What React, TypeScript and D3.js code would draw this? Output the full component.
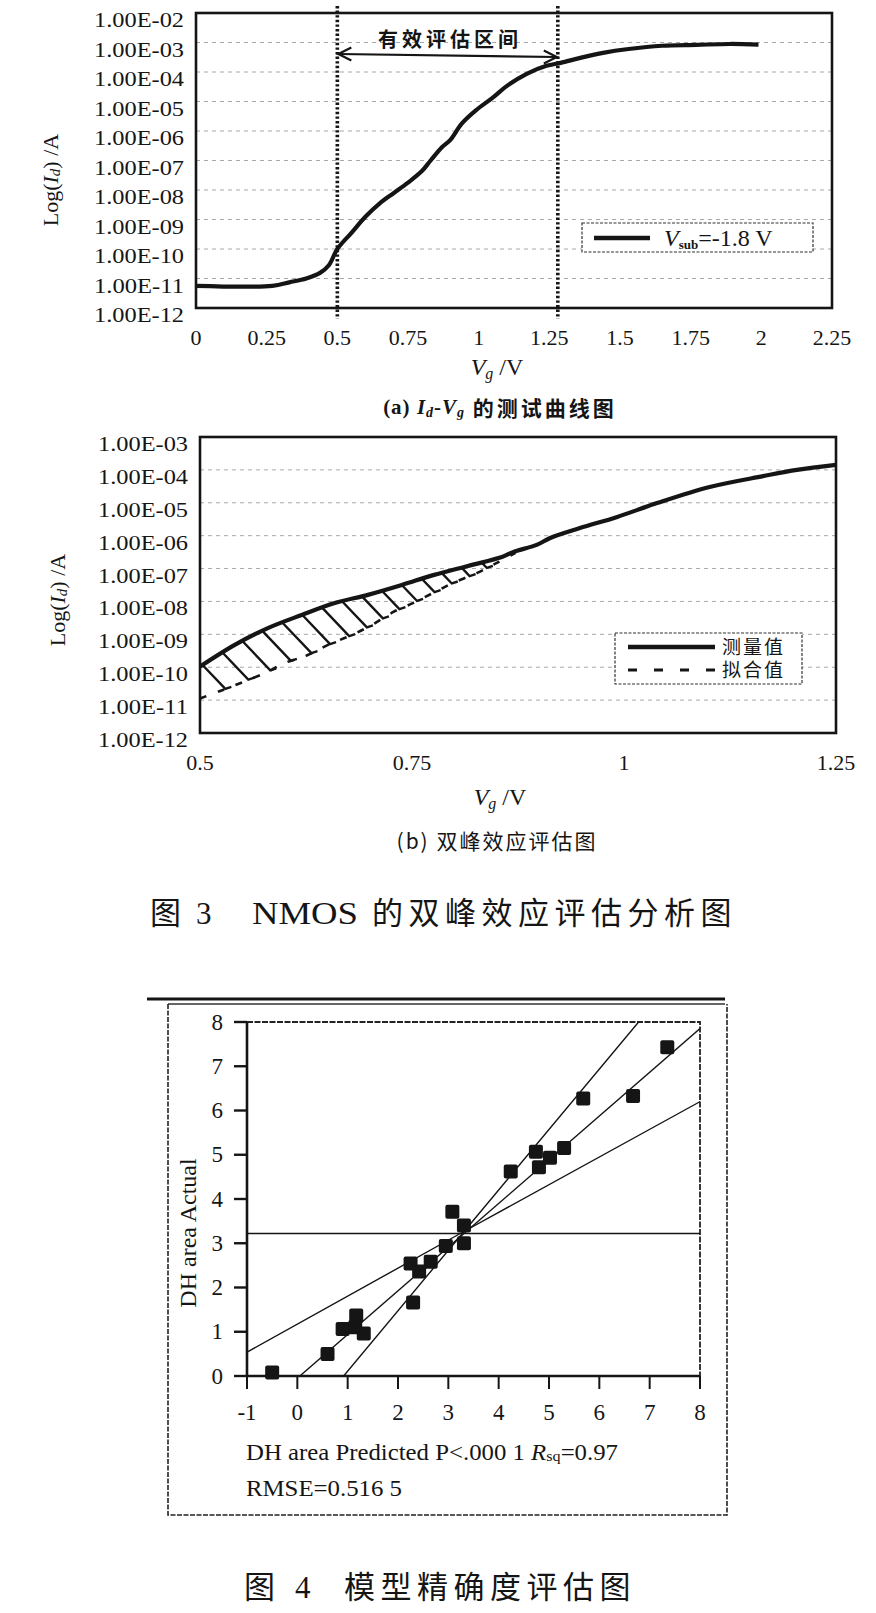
import * as d3 from "d3"
import { useEffect, useRef } from "react"

// Fig 3(a): measured Id-Vg curve, Vsub = -1.8 V (log10 of Id in A)
const vgA = [0, 0.27, 0.33, 0.39, 0.44, 0.47, 0.5, 0.55, 0.6, 0.65, 0.7, 0.75, 0.8, 0.83, 0.87, 0.9, 0.94, 0.99, 1.05, 1.1, 1.17, 1.24, 1.29, 1.36, 1.44, 1.53, 1.65, 1.77, 1.89, 1.99]
const logIdA = [-11.25, -11.25, -11.13, -11.0, -10.8, -10.55, -10.0, -9.45, -8.9, -8.45, -8.1, -7.75, -7.35, -7.0, -6.55, -6.3, -5.75, -5.3, -4.87, -4.47, -4.06, -3.79, -3.69, -3.52, -3.35, -3.22, -3.11, -3.08, -3.05, -3.07]
const expA = [-2, -3, -4, -5, -6, -7, -8, -9, -10, -11, -12]
const yLabelsA = ["1.00E-02", "1.00E-03", "1.00E-04", "1.00E-05", "1.00E-06", "1.00E-07", "1.00E-08", "1.00E-09", "1.00E-10", "1.00E-11", "1.00E-12"]
const xTicksA = [0, 0.25, 0.5, 0.75, 1, 1.25, 1.5, 1.75, 2, 2.25]
const xLabelsA = ["0", "0.25", "0.5", "0.75", "1", "1.25", "1.5", "1.75", "2", "2.25"]
const windowA = [0.5, 1.28]

// Fig 3(b): measured vs fitted in the evaluation window
const vgMeasB = [0.5, 0.541, 0.58, 0.62, 0.659, 0.698, 0.738, 0.775, 0.816, 0.856, 0.869, 0.897, 0.913, 0.948, 0.992, 1.039, 1.101, 1.164, 1.204, 1.25]
const logMeasB = [-9.98, -9.32, -8.81, -8.41, -8.05, -7.8, -7.5, -7.2, -6.92, -6.65, -6.5, -6.28, -6.07, -5.77, -5.43, -5.01, -4.52, -4.19, -4.0, -3.85]
const vgFitB = [0.5, 0.527, 0.577, 0.6, 0.627, 0.651, 0.679, 0.703, 0.728, 0.751, 0.775, 0.798, 0.827, 0.85, 0.872]
const logFitB = [-10.95, -10.69, -10.17, -9.87, -9.63, -9.32, -9.02, -8.71, -8.32, -8.05, -7.74, -7.44, -7.13, -6.83, -6.52]
const expB = [-3, -4, -5, -6, -7, -8, -9, -10, -11, -12]
const yLabelsB = ["1.00E-03", "1.00E-04", "1.00E-05", "1.00E-06", "1.00E-07", "1.00E-08", "1.00E-09", "1.00E-10", "1.00E-11", "1.00E-12"]
const xTicksB = [0.5, 0.75, 1, 1.25]
const xLabelsB = ["0.5", "0.75", "1", "1.25"]
const legendB = ["测量值", "拟合值"]

// Fig 4: DH area actual vs predicted
const predicted = [-0.5, 0.6, 0.9, 1.15, 1.17, 1.32, 2.25, 2.42, 2.65, 2.3, 2.95, 3.08, 3.31, 3.31, 4.24, 4.74, 4.8, 5.02, 5.3, 5.68, 6.67, 7.35]
const actual = [0.08, 0.5, 1.06, 1.1, 1.37, 0.96, 2.54, 2.36, 2.58, 1.66, 2.94, 3.71, 3.4, 3.0, 4.62, 5.07, 4.72, 4.93, 5.15, 6.27, 6.33, 7.43]
const fitLine = [[0.05, 0], [8, 7.85]]
const steepCurve = [[0.92, 0], [3.3, 3.25], [6.78, 8]]
const flatCurve = [[-1, 0.54], [3.3, 3.26], [8, 6.2]]
const meanActual = 3.22
const xTicks4 = [-1, 0, 1, 2, 3, 4, 5, 6, 7, 8]
const yTicks4 = [0, 1, 2, 3, 4, 5, 6, 7, 8]

const W = 876
const H = 1613
const serif = "'Liberation Serif', 'Times New Roman', 'Noto Sans CJK SC', serif"
const cjk = "'Noto Sans CJK SC', 'Liberation Serif', sans-serif"
const ink = "#151515"

type G = d3.Selection<SVGGElement, unknown, null, undefined>

function logAxisPanel(
  g: G,
  x: d3.ScaleLinear<number, number>,
  y: d3.ScaleLogarithmic<number, number>,
  exps: number[],
  labels: string[],
  xTicks: number[],
  xLabels: string[],
  xLabelY: number,
) {
  const [x0, x1] = x.range()
  const [yb, yt] = y.range()
  g.selectAll(".grid")
    .data(exps.slice(1, -1))
    .join("line")
    .attr("x1", x0)
    .attr("x2", x1)
    .attr("y1", (d) => y(10 ** d))
    .attr("y2", (d) => y(10 ** d))
    .attr("stroke", "#a8a8a8")
    .attr("stroke-width", 1)
    .attr("stroke-dasharray", "4,4")
  g.append("rect")
    .attr("x", x0)
    .attr("y", yt)
    .attr("width", x1 - x0)
    .attr("height", yb - yt)
    .attr("fill", "none")
    .attr("stroke", ink)
    .attr("stroke-width", 2.6)
  g.selectAll(".yl")
    .data(exps)
    .join("text")
    .attr("x", x0 - 102)
    .attr("y", (d) => y(10 ** d) + 7)
    .attr("dominant-baseline", "central")
    .attr("font-family", serif)
    .attr("font-size", 21)
    .attr("textLength", 90)
    .attr("lengthAdjust", "spacingAndGlyphs")
    .attr("fill", ink)
    .text((_, i) => labels[i])
  g.selectAll(".xl")
    .data(xTicks)
    .join("text")
    .attr("x", (d) => x(d))
    .attr("y", xLabelY)
    .attr("text-anchor", "middle")
    .attr("dominant-baseline", "central")
    .attr("font-family", serif)
    .attr("font-size", 22)
    .attr("fill", ink)
    .text((_, i) => xLabels[i])
}

function yTitle(g: G, cx: number, cy: number) {
  const t = g.append("text")
    .attr("transform", `translate(${cx},${cy}) rotate(-90)`)
    .attr("text-anchor", "middle")
    .attr("dominant-baseline", "central")
    .attr("font-family", serif)
    .attr("font-size", 22)
    .attr("fill", ink)
  t.append("tspan").text("Log(")
  t.append("tspan").attr("font-style", "italic").text("I")
  t.append("tspan").attr("font-style", "italic").attr("font-size", 15).attr("dy", 5).text("d")
  t.append("tspan").attr("dy", -5).text(") /A")
}

function xTitle(g: G, cx: number, cy: number) {
  const t = g.append("text")
    .attr("x", cx)
    .attr("y", cy)
    .attr("text-anchor", "middle")
    .attr("dominant-baseline", "central")
    .attr("font-family", serif)
    .attr("font-size", 24)
    .attr("fill", ink)
  t.append("tspan").attr("font-style", "italic").text("V")
  t.append("tspan").attr("font-style", "italic").attr("font-size", 16).attr("dy", 6).text("g")
  t.append("tspan").attr("dy", -6).text(" /V")
}

function drawPanelA(g: G) {
  const x = d3.scaleLinear().domain([0, 2.25]).range([196, 832])
  const y = d3.scaleLog().domain([1e-12, 1e-2]).range([308, 13])
  logAxisPanel(g, x, y, expA, yLabelsA, xTicksA, xLabelsA, 337)

  // evaluation window
  g.selectAll(".win")
    .data(windowA)
    .join("line")
    .attr("x1", (d) => x(d))
    .attr("x2", (d) => x(d))
    .attr("y1", 6)
    .attr("y2", 319)
    .attr("stroke", ink)
    .attr("stroke-width", 3.6)
    .attr("stroke-dasharray", "2.4,2.2")

  const line = d3.line<number>()
    .x((_, i) => x(vgA[i]))
    .y((d) => y(10 ** d))
    .curve(d3.curveCatmullRom.alpha(0.5))
  g.append("path")
    .attr("d", line(logIdA))
    .attr("fill", "none")
    .attr("stroke", ink)
    .attr("stroke-width", 4.2)
    .attr("stroke-linejoin", "round")

  const ax0 = x(windowA[0]) + 1
  const ax1 = x(windowA[1]) - 1
  g.append("line")
    .attr("x1", ax0).attr("y1", 54).attr("x2", ax1).attr("y2", 57)
    .attr("stroke", ink).attr("stroke-width", 2.2)
  g.append("path")
    .attr("d", `M${ax0 + 13},47.5 L${ax0},54 L${ax0 + 13},60.5`)
    .attr("fill", "none").attr("stroke", ink).attr("stroke-width", 2.2)
  g.append("path")
    .attr("d", `M${ax1 - 13},50.5 L${ax1},57 L${ax1 - 13},63.5`)
    .attr("fill", "none").attr("stroke", ink).attr("stroke-width", 2.2)
  g.append("text")
    .attr("x", 450).attr("y", 38)
    .attr("text-anchor", "middle").attr("dominant-baseline", "central")
    .attr("font-family", cjk).attr("font-weight", 700).attr("font-size", 20)
    .attr("letter-spacing", 4).attr("fill", ink)
    .text("有效评估区间")

  // legend
  g.append("rect")
    .attr("x", 582).attr("y", 223).attr("width", 231).attr("height", 29)
    .attr("fill", "#fff").attr("stroke", "#333").attr("stroke-width", 1.2)
    .attr("stroke-dasharray", "3,1.5")
  g.append("line")
    .attr("x1", 594).attr("x2", 650).attr("y1", 238).attr("y2", 238)
    .attr("stroke", ink).attr("stroke-width", 4.5)
  const lt = g.append("text")
    .attr("x", 664).attr("y", 238)
    .attr("dominant-baseline", "central")
    .attr("font-family", serif).attr("font-size", 24).attr("fill", ink)
  lt.append("tspan").attr("font-style", "italic").text("V")
  lt.append("tspan").attr("font-weight", 700).attr("font-size", 13).attr("dy", 6).text("sub")
  lt.append("tspan").attr("dy", -6).text("=-1.8 V")

  yTitle(g, 50, 180)
  xTitle(g, 497, 367)

  const cap = g.append("text")
    .attr("x", 500).attr("y", 407)
    .attr("text-anchor", "middle").attr("dominant-baseline", "central")
    .attr("font-family", serif).attr("font-weight", 700).attr("font-size", 21)
    .attr("letter-spacing", 1).attr("fill", ink)
  cap.append("tspan").text("(a) ")
  cap.append("tspan").attr("font-style", "italic").text("I")
  cap.append("tspan").attr("font-style", "italic").attr("font-size", 14).attr("dy", 5).text("d")
  cap.append("tspan").attr("dy", -5).text("-")
  cap.append("tspan").attr("font-style", "italic").text("V")
  cap.append("tspan").attr("font-style", "italic").attr("font-size", 14).attr("dy", 5).text("g")
  cap.append("tspan").attr("dy", -5).attr("font-family", cjk).attr("letter-spacing", 3).text(" 的测试曲线图")
}

function drawPanelB(g: G) {
  const x = d3.scaleLinear().domain([0.5, 1.25]).range([200, 836])
  const y = d3.scaleLog().domain([1e-12, 1e-3]).range([733, 437])
  logAxisPanel(g, x, y, expB, yLabelsB, xTicksB, xLabelsB, 762)

  const interp = (xs: number[], ys: number[], v: number) => {
    const i = Math.max(1, Math.min(xs.length - 1, d3.bisectLeft(xs, v)))
    const t = (v - xs[i - 1]) / (xs[i] - xs[i - 1])
    return ys[i - 1] + t * (ys[i] - ys[i - 1])
  }

  // hatch between measured and fitted curves
  const hatchStarts = d3.range(0.503, 0.85, 0.0235)
  const dirX = 1
  const dirY = 1.05
  const hatch = hatchStarts.map((v) => {
    const sx = x(v)
    const sy = y(10 ** interp(vgMeasB, logMeasB, v))
    let lo = 0
    let hi = 80
    for (let k = 0; k < 40; k++) {
      const mid = (lo + hi) / 2
      const px = sx + dirX * mid
      const fy = y(10 ** interp(vgFitB, logFitB, x.invert(px)))
      if (sy + dirY * mid < fy) lo = mid
      else hi = mid
    }
    return [sx, sy, sx + dirX * lo, sy + dirY * lo]
  })
  g.selectAll(".hatch")
    .data(hatch)
    .join("path")
    .attr("d", (d) => `M${d[0]},${d[1]} L${d[2]},${d[3]} l6,-2`)
    .attr("fill", "none")
    .attr("stroke", ink)
    .attr("stroke-width", 2.4)

  const fit = d3.line<number>()
    .x((_, i) => x(vgFitB[i]))
    .y((d) => y(10 ** d))
    .curve(d3.curveCatmullRom.alpha(0.5))
  g.append("path")
    .attr("d", fit(logFitB))
    .attr("fill", "none")
    .attr("stroke", ink)
    .attr("stroke-width", 2.6)
    .attr("stroke-dasharray", "7,12")

  const meas = d3.line<number>()
    .x((_, i) => x(vgMeasB[i]))
    .y((d) => y(10 ** d))
    .curve(d3.curveCatmullRom.alpha(0.5))
  g.append("path")
    .attr("d", meas(logMeasB))
    .attr("fill", "none")
    .attr("stroke", ink)
    .attr("stroke-width", 4.2)
    .attr("stroke-linejoin", "round")

  // legend
  g.append("rect")
    .attr("x", 615).attr("y", 633).attr("width", 187).attr("height", 51)
    .attr("fill", "#fff").attr("stroke", "#333").attr("stroke-width", 1.2)
    .attr("stroke-dasharray", "3,1.5")
  g.append("line")
    .attr("x1", 628).attr("x2", 715).attr("y1", 647).attr("y2", 647)
    .attr("stroke", ink).attr("stroke-width", 4.5)
  g.append("line")
    .attr("x1", 628).attr("x2", 715).attr("y1", 670).attr("y2", 670)
    .attr("stroke", ink).attr("stroke-width", 3)
    .attr("stroke-dasharray", "9,17")
  g.selectAll(".lg")
    .data(legendB)
    .join("text")
    .attr("x", 722)
    .attr("y", (_, i) => 647 + i * 23)
    .attr("dominant-baseline", "central")
    .attr("font-family", serif).attr("font-size", 19).attr("letter-spacing", 2).attr("fill", ink)
    .text((d) => d)

  yTitle(g, 57, 600)
  xTitle(g, 500, 797)

  g.append("text")
    .attr("x", 497).attr("y", 840)
    .attr("text-anchor", "middle").attr("dominant-baseline", "central")
    .attr("font-family", cjk).attr("font-size", 21).attr("letter-spacing", 2).attr("fill", ink)
    .text("(b) 双峰效应评估图")
}

function drawFig4(g: G) {
  const x = d3.scaleLinear().domain([-1, 8]).range([247, 700])
  const y = d3.scaleLinear().domain([0, 8]).range([1376, 1022])

  // outer frame
  g.append("line").attr("x1", 147).attr("x2", 725).attr("y1", 999).attr("y2", 999)
    .attr("stroke", ink).attr("stroke-width", 3)
  g.append("line").attr("x1", 168).attr("x2", 725).attr("y1", 1004).attr("y2", 1004)
    .attr("stroke", "#333").attr("stroke-width", 1.6)
  g.append("path")
    .attr("d", "M168,1004 L168,1515 L727,1515 L727,1004")
    .attr("fill", "none").attr("stroke", "#222").attr("stroke-width", 1.6)
    .attr("stroke-dasharray", "5,1.5")

  const defs = g.append("defs")
  defs.append("clipPath").attr("id", "plot4")
    .append("rect").attr("x", x(-1)).attr("y", y(8)).attr("width", x(8) - x(-1)).attr("height", y(0) - y(8))

  // plot box
  g.append("path")
    .attr("d", `M${x(-1)},${y(8)} L${x(8)},${y(8)} L${x(8)},${y(0)}`)
    .attr("fill", "none").attr("stroke", "#222").attr("stroke-width", 1.8)
    .attr("stroke-dasharray", "6,1.5")
  g.append("line").attr("x1", x(-1)).attr("x2", x(8)).attr("y1", y(0)).attr("y2", y(0))
    .attr("stroke", ink).attr("stroke-width", 2.6)
  g.append("line").attr("x1", x(-1)).attr("x2", x(-1)).attr("y1", y(8)).attr("y2", y(0))
    .attr("stroke", ink).attr("stroke-width", 2.6)

  g.selectAll(".xt")
    .data(xTicks4)
    .join("line")
    .attr("x1", (d) => x(d)).attr("x2", (d) => x(d))
    .attr("y1", y(0)).attr("y2", y(0) + 13)
    .attr("stroke", ink).attr("stroke-width", 2)
  g.selectAll(".yt")
    .data(yTicks4)
    .join("line")
    .attr("x1", x(-1) - 13).attr("x2", x(-1))
    .attr("y1", (d) => y(d)).attr("y2", (d) => y(d))
    .attr("stroke", ink).attr("stroke-width", 2.4)
  g.selectAll(".xtl")
    .data(xTicks4)
    .join("text")
    .attr("x", (d) => x(d)).attr("y", 1412)
    .attr("text-anchor", "middle").attr("dominant-baseline", "central")
    .attr("font-family", serif).attr("font-size", 23).attr("fill", ink)
    .text((d) => String(d))
  g.selectAll(".ytl")
    .data(yTicks4)
    .join("text")
    .attr("x", 223).attr("y", (d) => y(d))
    .attr("text-anchor", "end").attr("dominant-baseline", "central")
    .attr("font-family", serif).attr("font-size", 23).attr("fill", ink)
    .text((d) => String(d))

  const plot = g.append("g").attr("clip-path", "url(#plot4)")
  plot.append("line")
    .attr("x1", x(-1)).attr("x2", x(8)).attr("y1", y(meanActual)).attr("y2", y(meanActual))
    .attr("stroke", ink).attr("stroke-width", 1.5)
  const ln = d3.line<number[]>().x((d) => x(d[0])).y((d) => y(d[1])).curve(d3.curveMonotoneX)
  for (const pts of [fitLine, steepCurve, flatCurve]) {
    plot.append("path")
      .attr("d", ln(pts))
      .attr("fill", "none").attr("stroke", ink).attr("stroke-width", 1.4)
  }

  const s = 14
  g.selectAll(".pt")
    .data(predicted)
    .join("rect")
    .attr("x", (d) => x(d) - s / 2)
    .attr("y", (_, i) => y(actual[i]) - s / 2)
    .attr("width", s).attr("height", s).attr("rx", 2)
    .attr("fill", ink)

  g.append("text")
    .attr("transform", `translate(188,1233) rotate(-90)`)
    .attr("text-anchor", "middle").attr("dominant-baseline", "central")
    .attr("font-family", serif).attr("font-size", 24).attr("fill", ink)
    .text("DH area Actual")

  const p = g.append("text")
    .attr("x", 246).attr("y", 1452)
    .attr("dominant-baseline", "central")
    .attr("font-family", serif).attr("font-size", 23).attr("fill", ink)
    .attr("textLength", 372).attr("lengthAdjust", "spacingAndGlyphs")
  p.append("tspan").text("DH area Predicted P<.000 1 ")
  p.append("tspan").attr("font-style", "italic").text("R")
  p.append("tspan").attr("font-size", 15).attr("dy", 4).text("sq")
  p.append("tspan").attr("dy", -4).text("=0.97")
  g.append("text")
    .attr("x", 246).attr("y", 1488)
    .attr("dominant-baseline", "central")
    .attr("font-family", serif).attr("font-size", 23).attr("fill", ink)
    .attr("textLength", 156).attr("lengthAdjust", "spacingAndGlyphs")
    .text("RMSE=0.516 5")
}

function figCaption(g: G, y: number, parts: [number, string, number, number?][]) {
  g.selectAll(null)
    .data(parts)
    .join("text")
    .attr("x", (d) => d[0])
    .attr("y", y)
    .attr("dominant-baseline", "central")
    .attr("font-family", serif)
    .attr("font-size", 31)
    .attr("letter-spacing", (d) => d[2])
    .attr("textLength", (d) => (d[3] ? d[3] : null))
    .attr("lengthAdjust", "spacingAndGlyphs")
    .attr("fill", ink)
    .text((d) => d[1])
}

export default function App() {
  const ref = useRef<SVGSVGElement>(null)

  useEffect(() => {
    if (!ref.current) return
    const svg = d3.select(ref.current)
    svg.selectAll("*").remove()
    svg.append("rect").attr("width", W).attr("height", H).attr("fill", "#fff")
    drawPanelA(svg.append("g"))
    drawPanelB(svg.append("g"))
    drawFig4(svg.append("g"))
    const caps = svg.append("g")
    figCaption(caps, 913, [[150, "图", 0], [196, "3", 0], [252, "NMOS", 0, 106], [372, "的双峰效应评估分析图", 5.5]])
    figCaption(caps, 1587, [[244, "图", 0], [295, "4", 0], [344, "模型精确度评估图", 5.5]])
  }, [])

  return (
    <svg
      ref={ref}
      width={W}
      height={H}
      style={{ position: "absolute", left: 0, top: 0, display: "block" }}
    />
  )
}
